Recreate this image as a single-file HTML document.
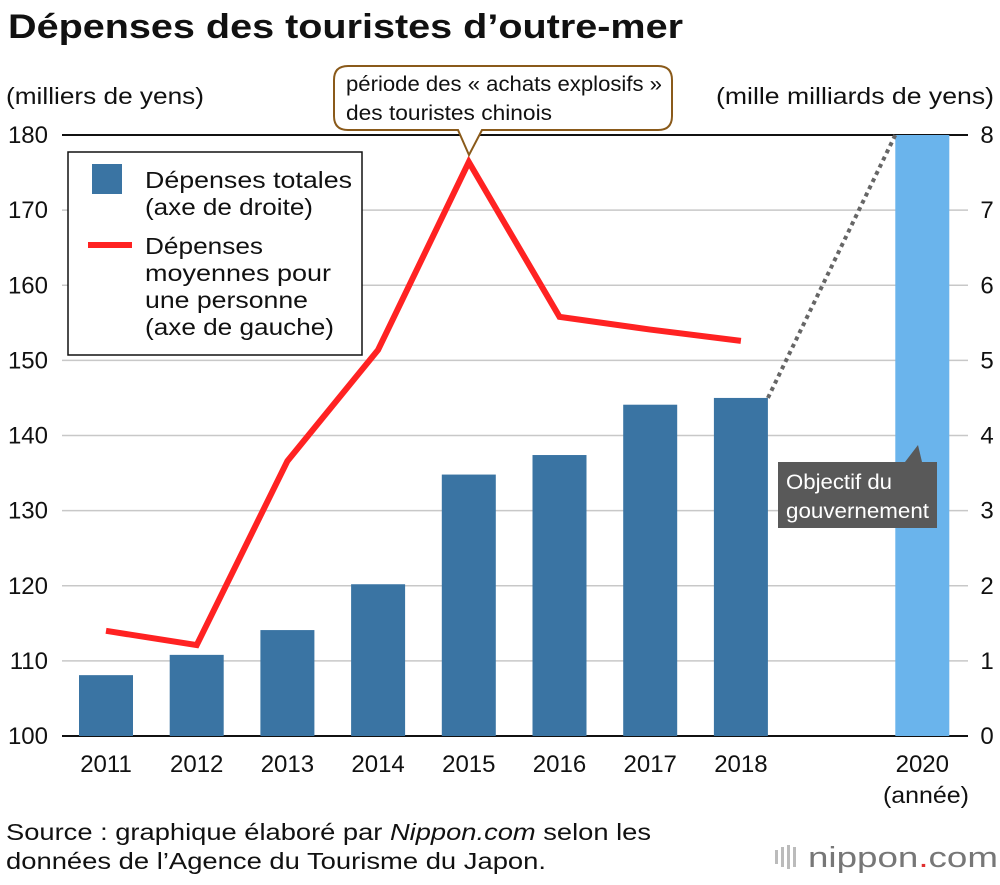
<!DOCTYPE html>
<html><head><meta charset="utf-8">
<style>
body{margin:0;background:#fff;font-family:"Liberation Sans",Arial,sans-serif;}
svg text{font-family:"Liberation Sans",Arial,sans-serif;}
</style></head>
<body>
<svg width="1000" height="880" viewBox="0 0 1000 880">
<text x="8" y="38" font-size="34" font-weight="bold" fill="#111" textLength="675" lengthAdjust="spacingAndGlyphs">Dépenses des touristes d’outre-mer</text>
<text x="6" y="104" font-size="23" fill="#111" textLength="198" lengthAdjust="spacingAndGlyphs">(milliers de yens)</text>
<text x="716" y="104" font-size="23" fill="#111" textLength="278" lengthAdjust="spacingAndGlyphs">(mille milliards de yens)</text>
<g id="grid"></g>
<g id="bars"></g>
<g id="line"></g>
<g id="ticks"></g>
<g>
<path d="M348,66 H658 Q672,66 672,80 V116 Q672,130 658,130 H482 L469,155 L458,130 H348 Q334,130 334,116 V80 Q334,66 348,66 Z" fill="#fff" stroke="#8a5a1a" stroke-width="2"/>
<text x="346" y="91" font-size="21" fill="#111" textLength="316" lengthAdjust="spacingAndGlyphs">période des « achats explosifs »</text>
<text x="346" y="120" font-size="21" fill="#111" textLength="206" lengthAdjust="spacingAndGlyphs">des touristes chinois</text>
</g>
<g>
<path d="M778,462 H905 L918,445 L922,462 H937 V528 H778 Z" fill="#595959"/>
<text x="786" y="489" font-size="21" fill="#fff" textLength="106" lengthAdjust="spacingAndGlyphs">Objectif du</text>
<text x="786" y="518" font-size="21" fill="#fff" textLength="143" lengthAdjust="spacingAndGlyphs">gouvernement</text>
</g>
<g>
<rect x="68" y="152" width="294" height="203" fill="#fff" stroke="#111" stroke-width="1.5"/>
<rect x="92" y="164" width="30" height="30" fill="#3a74a3"/>
<text x="145" y="188" font-size="23" fill="#111" textLength="207" lengthAdjust="spacingAndGlyphs">Dépenses totales</text>
<text x="145" y="215" font-size="23" fill="#111" textLength="168" lengthAdjust="spacingAndGlyphs">(axe de droite)</text>
<line x1="88" y1="245" x2="132" y2="245" stroke="#ff2222" stroke-width="6"/>
<text x="145" y="254" font-size="23" fill="#111" textLength="118" lengthAdjust="spacingAndGlyphs">Dépenses</text>
<text x="145" y="281" font-size="23" fill="#111" textLength="186" lengthAdjust="spacingAndGlyphs">moyennes pour</text>
<text x="145" y="308" font-size="23" fill="#111" textLength="163" lengthAdjust="spacingAndGlyphs">une personne</text>
<text x="145" y="335" font-size="23" fill="#111" textLength="189" lengthAdjust="spacingAndGlyphs">(axe de gauche)</text>
</g>
<text x="883" y="803" font-size="23" fill="#111" textLength="86" lengthAdjust="spacingAndGlyphs">(année)</text>
<text x="6" y="840" font-size="23" fill="#111" textLength="645" lengthAdjust="spacingAndGlyphs">Source : graphique élaboré par <tspan font-style="italic">Nippon.com</tspan> selon les</text>
<text x="6" y="869" font-size="23" fill="#111" textLength="540" lengthAdjust="spacingAndGlyphs">données de l’Agence du Tourisme du Japon.</text>
<g>
<rect x="775" y="850" width="3" height="14" fill="#bbb"/><rect x="781" y="847" width="3" height="20" fill="#bbb"/><rect x="787" y="845" width="3" height="24" fill="#bbb"/><rect x="793" y="847" width="3" height="20" fill="#bbb"/>
<text x="808" y="867" font-size="29" fill="#777" textLength="190" lengthAdjust="spacingAndGlyphs">nippon<tspan fill="#e03030">.</tspan>com</text>
</g>
</svg>
<script>
const categories=["2011","2012","2013","2014","2015","2016","2017","2018","2020"];
const slots=[0,1,2,3,4,5,6,7,9];
const totalValues=[0.81,1.08,1.41,2.02,3.48,3.74,4.41,4.50,8];
const averageValues=[114.0,112.1,136.6,151.4,176.4,155.8,154.1,152.6];
const leftTicks=[100,110,120,130,140,150,160,170,180];
const rightTicks=[0,1,2,3,4,5,6,7,8];
const NS="http://www.w3.org/2000/svg";
const x0=62,x1=968,yB=736,yT=135;
const xPos=s=>106+s*90.7;
const yL=v=>yB-(v-100)/80*(yB-yT);
const yR=v=>yB-v/8*(yB-yT);
function mk(t,a,p){const e=document.createElementNS(NS,t);for(const k in a)e.setAttribute(k,a[k]);p.appendChild(e);return e;}
const grid=document.getElementById('grid'),ticks=document.getElementById('ticks');
leftTicks.forEach((v,i)=>{
 const y=yL(v);
 const edge=(i===0||i===leftTicks.length-1);
 const g=mk('line',{x1:x0,x2:x1,y1:y,y2:y,stroke:edge?'#111':'#c8c8c8','stroke-width':edge?2:1.5},grid);
 
 
 const t=mk('text',{x:48,y:y+8,'font-size':24,'text-anchor':'end',fill:'#111'},ticks);t.textContent=v;
 
 
});
rightTicks.forEach(v=>{
 const t=mk('text',{x:987,y:yR(v)+8,'font-size':24,'text-anchor':'middle',fill:'#111'},ticks);t.textContent=v;
 
 
});
const bars=document.getElementById('bars');
categories.forEach((c,i)=>{
 const cx=xPos(slots[i]);
 const r=mk('rect',{x:cx-27,y:yR(totalValues[i]),width:54,height:yB-yR(totalValues[i]),fill:c==="2020"?'#6ab4ec':'#3a74a3'},bars);
 
 
 const t=mk('text',{x:cx,y:772,'font-size':24,'text-anchor':'middle',fill:'#111'},ticks);t.textContent=c;
 
 
});
const dl=mk('line',{x1:xPos(7)+27,y1:yR(totalValues[7]),x2:xPos(9)-27,y2:yR(totalValues[8]),stroke:'#666','stroke-width':4,'stroke-dasharray':'4 4'},bars);


const pts=averageValues.map((v,i)=>xPos(slots[i])+','+yL(v)).join(' ');
const pl=mk('polyline',{points:pts,fill:'none',stroke:'#ff2222','stroke-width':6,'stroke-linejoin':'miter'},document.getElementById('line'));


</script>
</body></html>
